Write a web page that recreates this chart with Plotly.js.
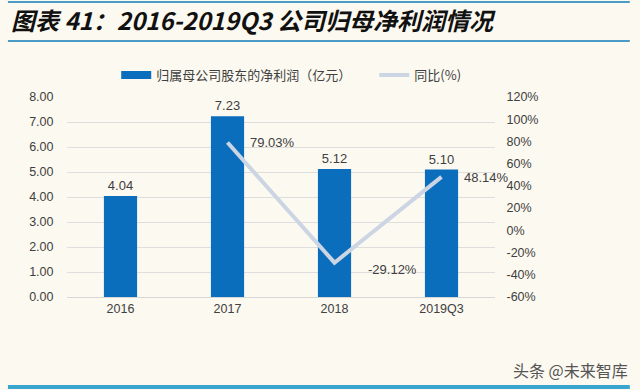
<!DOCTYPE html>
<html><head><meta charset="utf-8">
<script src="https://cdn.plot.ly/plotly-3.0.1.min.js"></script>
<style>html,body{margin:0;padding:0;background:#fcf9f0;}#chart{width:640px;height:390px;}</style>
</head><body><div id="chart"></div>
<script>
const categories = ['2016', '2017', '2018', '2019Q3'];
const profit = [4.04, 7.23, 5.12, 5.10];
const profitLabels = ['4.04', '7.23', '5.12', '5.10'];
const yoyCategories = ['2017', '2018', '2019Q3'];
const yoy = [79.03, -29.12, 48.14];
const yoyLabels = ['79.03%', '-29.12%', '48.14%'];
const leftTicks = [0,1,2,3,4,5,6,7,8];
const leftTickText = ['0.00','1.00','2.00','3.00','4.00','5.00','6.00','7.00','8.00'];
const rightTicks = [-60,-40,-20,0,20,40,60,80,100,120];
const rightTickText = ['-60%','-40%','-20%','0%','20%','40%','60%','80%','100%','120%'];
const seriesNames = ['归属母公司股东的净利润（亿元）', '同比(%)'];
const titleText = '<b><i>图表 41：2016-2019Q3 公司归母净利润情况</i></b>';

const barColor = '#0a6ebd';
const lineColor = '#ccd5e3';
const tickFont = {family: 'Liberation Sans, Arial, sans-serif', size: 12.5, color: '#404040'};
const legendFont = {family: 'Noto Sans CJK SC, sans-serif', size: 13, color: '#404040'};

const traces = [
  {type: 'bar', x: categories, y: profit, name: seriesNames[0], marker: {color: barColor}, showlegend: false,
   text: profitLabels, textposition: 'outside', cliponaxis: false,
   textfont: {family: 'Liberation Sans, Arial, sans-serif', size: 13, color: '#404040'}, hoverinfo: 'skip'},
  {type: 'scatter', mode: 'lines', x: [null], y: [null], name: seriesNames[0], legend: 'legend',
   line: {color: barColor, width: 8}, hoverinfo: 'skip'},
  {type: 'scatter', mode: 'lines', x: yoyCategories, y: yoy, name: seriesNames[1], yaxis: 'y2', legend: 'legend2',
   line: {color: lineColor, width: 4}, hoverinfo: 'skip'}
];

const annotations = [
  {xref: 'paper', yref: 'paper', x: -0.135, y: 1.39, xanchor: 'left', yanchor: 'middle', showarrow: false,
   text: titleText, font: {family: 'Noto Sans CJK SC, sans-serif', size: 24, color: '#111'}},
  {xref: 'paper', yref: 'paper', x: 1.315, y: -0.365, xanchor: 'right', yanchor: 'middle', showarrow: false,
   text: '头条 @未来智库', font: {family: 'Noto Sans CJK SC, sans-serif', size: 16, color: '#555'}}
];
const labelShift = [[20, 0], [31, -7], [20, -1]];
yoyCategories.forEach((c, i) => {
  annotations.push({x: categories.indexOf(c), y: yoy[i], xref: 'x', yref: 'y2', text: yoyLabels[i], showarrow: false,
    xanchor: 'left', xshift: labelShift[i][0], yshift: labelShift[i][1],
    font: {family: 'Liberation Sans, Arial, sans-serif', size: 13, color: '#404040'}});
});

const layout = {
  width: 640, height: 390,
  paper_bgcolor: '#fcf9f0', plot_bgcolor: '#fcf9f0',
  margin: {l: 67, r: 145, t: 97, b: 93},
  showlegend: true,
  legend: {orientation: 'h', x: 0.115, y: 1.11, xanchor: 'left', yanchor: 'middle',
    font: legendFont, bgcolor: 'rgba(0,0,0,0)'},
  legend2: {orientation: 'h', x: 0.718, y: 1.11, xanchor: 'left', yanchor: 'middle',
    font: legendFont, bgcolor: 'rgba(0,0,0,0)'},
  bargap: 0.69,
  xaxis: {type: 'category', categoryorder: 'array', categoryarray: categories, range: [-0.5, 3.5],
    tickfont: tickFont, showgrid: false, showline: true, linecolor: '#d6d6d6', linewidth: 1,
    ticks: '', zeroline: false},
  yaxis: {range: [0, 8], tickvals: leftTicks, ticktext: leftTickText, tickfont: tickFont,
    showgrid: true, gridcolor: '#dedede', gridwidth: 1, zeroline: false, ticks: 'outside', ticklen: 10, tickcolor: 'rgba(0,0,0,0)'},
  yaxis2: {overlaying: 'y', side: 'right', range: [-60, 120], tickvals: rightTicks, ticktext: rightTickText,
    tickfont: tickFont, showgrid: false, zeroline: false, ticks: 'outside', ticklen: 8, tickcolor: 'rgba(0,0,0,0)'},
  shapes: [
    {type: 'line', xref: 'paper', yref: 'paper', x0: -0.138, x1: 1.315, y0: 1.475, y1: 1.475, line: {color: '#4a9cc7', width: 2}},
    {type: 'line', xref: 'paper', yref: 'paper', x0: -0.138, x1: 1.315, y0: 1.28, y1: 1.28, line: {color: '#4a9cc7', width: 2}},
    {type: 'line', xref: 'paper', yref: 'paper', x0: -0.138, x1: 1.315, y0: -0.45, y1: -0.45, line: {color: '#3aa6cf', width: 4}}
  ],
  annotations: annotations
};
Plotly.newPlot('chart', traces, layout, {displayModeBar: false, staticPlot: true});
</script></body></html>
